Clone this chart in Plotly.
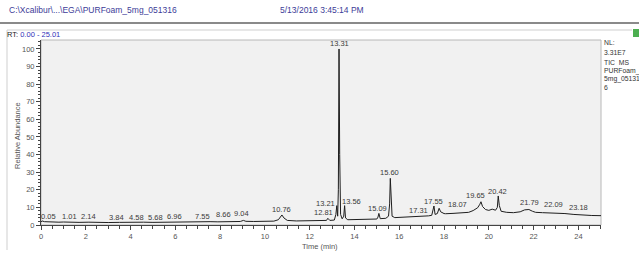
import plotly.graph_objects as go

# ---- data ----
rt = [0.00, 0.05, 0.15, 0.40, 0.80, 1.01, 1.30, 1.70, 2.14, 2.50, 3.00, 3.50, 3.84, 4.20, 4.58,
      5.00, 5.40, 5.68, 6.00, 6.50, 6.96, 7.30, 7.55, 7.90, 8.30, 8.66, 8.90, 9.04, 9.15, 9.50,
      10.00, 10.40, 10.60, 10.70, 10.76, 10.85, 11.00, 11.40, 11.80, 12.20, 12.60, 12.75, 12.81,
      12.90, 13.10, 13.17, 13.21, 13.25, 13.28, 13.31, 13.34, 13.38, 13.45, 13.52, 13.56, 13.60,
      13.70, 13.90, 14.30, 14.80, 15.00, 15.05, 15.09, 15.15, 15.40, 15.52, 15.57, 15.60, 15.63,
      15.68, 15.80, 16.20, 16.60, 17.00, 17.31, 17.45, 17.50, 17.55, 17.60, 17.70, 17.78, 17.85,
      18.00, 18.07, 18.40, 18.80, 19.10, 19.30, 19.50, 19.60, 19.65, 19.72, 19.85, 20.00, 20.15,
      20.30, 20.38, 20.42, 20.47, 20.55, 20.80, 21.10, 21.40, 21.60, 21.72, 21.79, 21.95, 22.09,
      22.40, 22.80, 23.00, 23.18, 23.40, 23.80, 24.20, 24.60, 25.01]
abundance = [1.8, 2.3, 1.9, 1.7, 1.6, 1.7, 1.5, 1.5, 1.6, 1.4, 1.4, 1.5, 1.6, 1.5, 1.6,
             1.5, 1.6, 1.7, 1.6, 1.7, 1.8, 1.7, 1.9, 1.8, 1.9, 2.0, 2.0, 2.6, 2.1, 2.0,
             2.1, 2.2, 3.0, 5.0, 5.7, 4.0, 2.6, 2.3, 2.3, 2.4, 2.5, 2.6, 3.8,
             2.6, 2.8, 6.0, 11.0, 5.0, 20.0, 100.0, 40.0, 6.0, 3.5, 5.0, 11.0, 4.0,
             3.0, 3.0, 3.1, 3.3, 3.4, 4.5, 6.6, 3.6, 3.8, 5.0, 12.0, 26.5, 15.0,
             5.0, 4.2, 4.4, 4.6, 4.8, 5.2, 5.5, 8.0, 10.8, 6.0, 6.5, 9.5, 7.5,
             6.5, 6.4, 6.6, 7.0, 7.2, 8.2, 9.8, 11.8, 13.2, 10.5, 8.8, 8.3, 9.0,
             8.4, 10.0, 16.5, 11.0, 7.8, 7.2, 7.0, 7.5, 8.6, 9.0, 8.8, 7.8, 7.2,
             7.0, 6.8, 6.9, 7.0, 6.5, 6.0, 5.6, 5.4, 5.3]

peak_labels = ["0.05", "1.01", "2.14", "3.84", "4.58", "5.68", "6.96", "7.55", "8.66", "9.04",
               "10.76", "12.81", "13.21", "13.31", "13.56", "15.09", "15.60", "17.31", "17.55",
               "18.07", "19.65", "20.42", "21.79", "22.09", "23.18"]
label_x = [0.33, 1.27, 2.11, 3.38, 4.25, 5.10, 5.98, 7.20, 8.15, 8.97,
           10.76, 12.60, 12.70, 13.32, 13.85, 15.04, 15.56, 16.87, 17.54,
           18.58, 19.40, 20.40, 21.80, 22.90, 24.02]
label_y = [5.1, 5.1, 4.7, 4.3, 4.5, 4.5, 4.7, 5.1, 5.7, 6.5,
           8.9, 7.0, 12.0, 103.0, 13.1, 9.1, 29.7, 8.1, 13.2,
           11.5, 16.5, 19.0, 12.7, 11.4, 10.1]

x_ticks = [0, 2, 4, 6, 8, 10, 12, 14, 16, 18, 20, 22, 24]
y_ticks = [0, 10, 20, 30, 40, 50, 60, 70, 80, 90, 100]

header_file = "C:\\Xcalibur\\...\\EGA\\PURFoam_5mg_051316"
header_date = "5/13/2016 3:45:14 PM"
side_lines = ["NL:", "3.31E7", "TIC  MS", "PURFoam_", "5mg_05131", "6"]

# ---- layout geometry (pixels) ----
W, H = 639, 254
L, R, T, B = 41, 38, 40, 29
PW, PH = W - L - R, H - T - B
FONT = "Liberation Sans, Arial, sans-serif"


def px(x):
    return (x - L) / PW


def py(y):
    return (H - B - y) / PH


fig = go.Figure()
fig.add_trace(go.Scatter(x=rt, y=abundance, mode="lines",
                         line=dict(color="#1e1e1e", width=1), hoverinfo="skip",
                         showlegend=False))

annotations = []
for txt, xx, yy in zip(peak_labels, label_x, label_y):
    annotations.append(dict(x=xx, y=yy, xref="x", yref="y", text=txt, showarrow=False,
                            font=dict(size=7.5, color="#3a3a3a", family=FONT),
                            xanchor="center", yanchor="middle"))

annotations.append(dict(x=px(7), y=py(10), xref="paper", yref="paper", text=header_file,
                        showarrow=False, xanchor="left", yanchor="middle",
                        font=dict(size=8.5, color="#3c3c98", family=FONT)))
annotations.append(dict(x=px(278), y=py(10), xref="paper", yref="paper", text=header_date,
                        showarrow=False, xanchor="left", yanchor="middle",
                        font=dict(size=8.5, color="#3c3c98", family=FONT)))
annotations.append(dict(x=px(5), y=py(34), xref="paper", yref="paper",
                        text="RT: <span style='color:#3030b8'>0.00 - 25.01</span>",
                        showarrow=False, xanchor="left", yanchor="middle",
                        font=dict(size=7.5, color="#222222", family=FONT)))
side_y = [43, 52, 63, 71, 79, 87]
for txt, yy in zip(side_lines, side_y):
    annotations.append(dict(x=px(602), y=py(yy), xref="paper", yref="paper", text=txt,
                            showarrow=False, xanchor="left", yanchor="middle",
                            font=dict(size=6.8, color="#333333", family=FONT)))
annotations.append(dict(x=px(17), y=py(136), xref="paper", yref="paper",
                        text="Relative Abundance", textangle=-90, showarrow=False,
                        xanchor="center", yanchor="middle",
                        font=dict(size=7.5, color="#555555", family=FONT)))
annotations.append(dict(x=px(320), y=py(246), xref="paper", yref="paper",
                        text="Time (min)", showarrow=False,
                        xanchor="center", yanchor="middle",
                        font=dict(size=7.5, color="#555555", family=FONT)))

shapes = [
    dict(type="line", xref="paper", yref="paper", x0=px(0), x1=px(639), y0=py(23), y1=py(23),
         line=dict(color="#8a8a8a", width=2)),
    dict(type="line", xref="paper", yref="paper", x0=px(7), x1=px(632), y0=py(30), y1=py(30),
         line=dict(color="#cfcfcf", width=1)),
    dict(type="line", xref="paper", yref="paper", x0=px(7), x1=px(7), y0=py(30), y1=py(250),
         line=dict(color="#cfcfcf", width=1)),
    dict(type="rect", xref="paper", yref="paper", x0=0, x1=1, y0=0, y1=1,
         line=dict(color="#b8b8b8", width=1), layer="below"),
    dict(type="rect", xref="paper", yref="paper", x0=px(633), x1=px(639), y0=py(29), y1=py(37),
         fillcolor="#4caf50", line=dict(width=0)),
]

fig.update_layout(
    width=W, height=H,
    margin=dict(l=L, r=R, t=T, b=B, pad=0),
    paper_bgcolor="white", plot_bgcolor="#f1f1f1",
    font=dict(family=FONT, size=7.5, color="#555555"),
    showlegend=False,
    annotations=annotations, shapes=shapes,
    xaxis=dict(range=[0, 25.01], tickmode="array", tickvals=x_ticks,
               ticktext=[str(v) for v in x_ticks], ticks="outside", ticklen=4,
               tickcolor="#444444", showgrid=False, zeroline=False, showline=True,
               linecolor="#444444", linewidth=1,
               tickfont=dict(size=7.5, color="#555555", family=FONT),
               minor=dict(dtick=0.5, ticks="outside", ticklen=3, tickcolor="#444444",
                          showgrid=False)),
    yaxis=dict(range=[0, 105.1], tickmode="array", tickvals=y_ticks,
               ticktext=[str(v) for v in y_ticks], ticks="outside", ticklen=4,
               tickcolor="#444444", showgrid=False, zeroline=False, showline=True,
               linecolor="#444444", linewidth=1,
               tickfont=dict(size=7.5, color="#555555", family=FONT),
               minor=dict(dtick=2, ticks="outside", ticklen=2, tickcolor="#444444",
                          showgrid=False)),
)

fig.write_html("out.html", config={"displayModeBar": False},
               post_script="document.body.style.margin='0';document.body.style.overflow='hidden';")
